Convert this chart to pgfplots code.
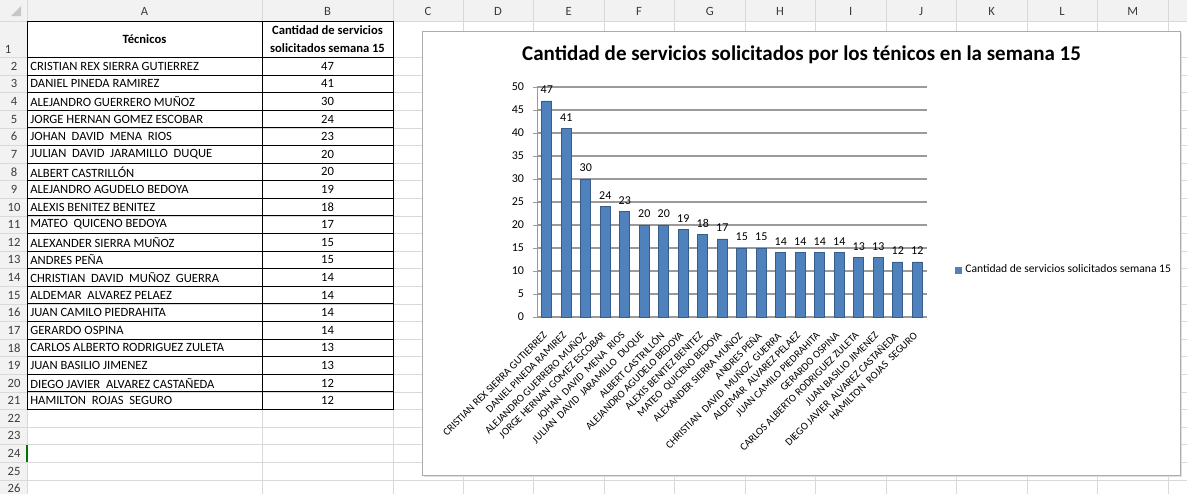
\documentclass[border=0pt]{standalone}
\usepackage{fontspec}
\setmainfont{Carlito}
\usepackage{pgfplots}
\pgfplotsset{compat=1.18}
\definecolor{barblue}{HTML}{4F81BD}
\definecolor{bardark}{HTML}{385D8A}
\definecolor{gridc}{HTML}{D9D9D9}
\definecolor{hdrfill}{HTML}{F2F2F2}
\definecolor{hdrtext}{HTML}{3C3C3C}
\definecolor{axgray}{HTML}{9A9A9A}
\newcommand\sheetfont{\fontsize{6.3}{7}\selectfont}
\begin{document}
\begin{tikzpicture}
\useasboundingbox (0,0) rectangle (593.5pt,-247pt);
\begin{scope}[x=0.5pt,y=-0.5pt]
  % headers
  \fill[hdrfill] (0,0) rectangle (1187,21);
  \fill[hdrfill] (0,21) rectangle (27,494);
  \fill[gray!45] (21,6) -- (21,16) -- (11,16) -- cycle;
  % horizontal gridlines
  \draw[gridc] (0,21) -- (1187,21);
  \foreach \k in {2,...,27} {
    \pgfmathsetmacro\yy{57.5+(\k-2)*17.6}
    \draw[gridc] (0,\yy) -- (1187,\yy);
  }
  % vertical gridlines
  \foreach \xx in {27,262,393,463,533.5,604,674.5,745,815.5,886,956.5,1027,1097.5,1168}
    \draw[gridc] (\xx,0) -- (\xx,494);
  % column letters
  \foreach \xx/\c in {144.5/A,327.5/B,428/C,498/D,568.75/E,639/F,709.75/G,780/H,850.75/I,921/J,991.75/K,1062/L,1132.75/M}
    \node[text=hdrtext,font=\fontsize{6.3}{7}\selectfont] at (\xx,11) {\c};
  % row numbers
  \node[text=hdrtext,font=\fontsize{6.3}{7}\selectfont] at (8,49) {1};
  \foreach \k in {2,...,26} {
    \pgfmathsetmacro\yy{57.5+(\k-2)*17.6+8.8}
    \node[text=hdrtext,font=\fontsize{6.3}{7}\selectfont] at (14,\yy) {\k};
  }
  \draw[green!45!black,line width=1pt] (26.5,444.7) -- (26.5,462.3);
  % table header
  \node[font=\sheetfont\bfseries] at (144.5,39) {Técnicos};
  \node[font=\sheetfont\bfseries] at (327.5,30) {Cantidad de servicios};
  \node[font=\sheetfont\bfseries] at (327.5,48.5) {solicitados semana 15};
  % table rows
  \foreach \n/\v [count=\k from 2] in {CRISTIAN REX SIERRA GUTIERREZ/47,DANIEL PINEDA RAMIREZ/41,ALEJANDRO GUERRERO MUÑOZ/30,JORGE HERNAN GOMEZ ESCOBAR/24,JOHAN\ \ DAVID\ \ MENA\ \ RIOS/23,JULIAN\ \ DAVID\ \ JARAMILLO\ \ DUQUE/20,ALBERT CASTRILLÓN/20,ALEJANDRO AGUDELO BEDOYA/19,ALEXIS BENITEZ BENITEZ/18,MATEO\ \ QUICENO BEDOYA/17,ALEXANDER SIERRA MUÑOZ/15,ANDRES PEÑA/15,CHRISTIAN\ \ DAVID\ \ MUÑOZ\ \ GUERRA/14,ALDEMAR\ \ ALVAREZ PELAEZ/14,JUAN CAMILO PIEDRAHITA/14,GERARDO OSPINA/14,CARLOS ALBERTO RODRIGUEZ ZULETA/13,JUAN BASILIO JIMENEZ/13,DIEGO JAVIER\ \ ALVAREZ CASTAÑEDA/12,HAMILTON\ \ ROJAS\ \ SEGURO/12} {
    \pgfmathsetmacro\yy{57.5+(\k-2)*17.6+8.8}
    \node[font=\sheetfont,anchor=west,inner sep=0pt] at (30,\yy) {\n};
    \node[font=\sheetfont,inner sep=0pt] at (327.5,\yy) {\v};
  }
  % table borders
  \foreach \k in {2,...,22} {
    \pgfmathsetmacro\yy{57.5+(\k-2)*17.6}
    \draw[black,line width=0.5pt] (27,\yy) -- (393,\yy);
  }
  \draw[black,line width=0.5pt] (27,21) -- (393,21);
  \foreach \xx in {27,262,393} \draw[black,line width=0.5pt] (\xx,21) -- (\xx,409.5);
  % chart area
  \fill[gray!25] (424,33) rectangle (1182,477);
  \fill[white] (422,31) rectangle (1180,475);
  \draw[gray!65] (422,31) rectangle (1180,475);
  \node[font=\fontsize{10.5}{12}\selectfont\bfseries] at (801.5,55) {Cantidad de servicios solicitados por los ténicos en la semana 15};
\end{scope}
\begin{axis}[
  at={(268.5pt,-158.5pt)}, anchor=south west,
  scale only axis, width=195pt, height=115pt,
  xmin=-0.5, xmax=19.5, ymin=0, ymax=50,
  ytick={0,5,...,50},
  xtick={0,...,19},
  xticklabels={CRISTIAN REX SIERRA GUTIERREZ,DANIEL PINEDA RAMIREZ,ALEJANDRO GUERRERO MUÑOZ,JORGE HERNAN GOMEZ ESCOBAR,JOHAN\ \ DAVID\ \ MENA\ \ RIOS,JULIAN\ \ DAVID\ \ JARAMILLO\ \ DUQUE,ALBERT CASTRILLÓN,ALEJANDRO AGUDELO BEDOYA,ALEXIS BENITEZ BENITEZ,MATEO\ \ QUICENO BEDOYA,ALEXANDER SIERRA MUÑOZ,ANDRES PEÑA,CHRISTIAN\ \ DAVID\ \ MUÑOZ\ \ GUERRA,ALDEMAR\ \ ALVAREZ PELAEZ,JUAN CAMILO PIEDRAHITA,GERARDO OSPINA,CARLOS ALBERTO RODRIGUEZ ZULETA,JUAN BASILIO JIMENEZ,DIEGO JAVIER\ \ ALVAREZ CASTAÑEDA,HAMILTON\ \ ROJAS\ \ SEGURO},
  minor xtick={-0.5,0.5,...,19.5},
  axis x line*=bottom, axis y line*=left,
  axis line style={axgray},
  ymajorgrids, grid style={axgray,line width=0.6pt},
  tick align=outside,
  major tick length=2pt, minor tick length=2pt,
  xtick style={draw=none},
  minor x tick style={axgray},
  ytick style={axgray},
  /pgf/number format/assume math mode=true,
  yticklabel style={font=\fontsize{6}{7}\selectfont, xshift=-1pt},
  x tick label style={font=\fontsize{5.3}{6}\selectfont, rotate=45, anchor=east, inner sep=1pt, xshift=-4pt, yshift=-4pt},
  nodes near coords,
  every node near coord/.append style={font=\fontsize{6}{7}\selectfont, text=black, /pgf/number format/assume math mode=true},
  legend style={at={(1.065,0.204)}, anchor=west, draw=none, fill=none, font=\fontsize{5.8}{7}\selectfont, inner sep=1pt},
  legend image code/.code={\fill[barblue] (0pt,-1.5pt) rectangle (3pt,1.5pt);},
]
\addplot[ybar, bar width=5pt, fill=barblue, draw=bardark, line width=0.3pt]
coordinates {(0,47) (1,41) (2,30) (3,24) (4,23) (5,20) (6,20) (7,19) (8,18) (9,17) (10,15) (11,15) (12,14) (13,14) (14,14) (15,14) (16,13) (17,13) (18,12) (19,12)};
\addlegendentry{Cantidad de servicios solicitados semana 15}
\end{axis}
\end{tikzpicture}
\end{document}
